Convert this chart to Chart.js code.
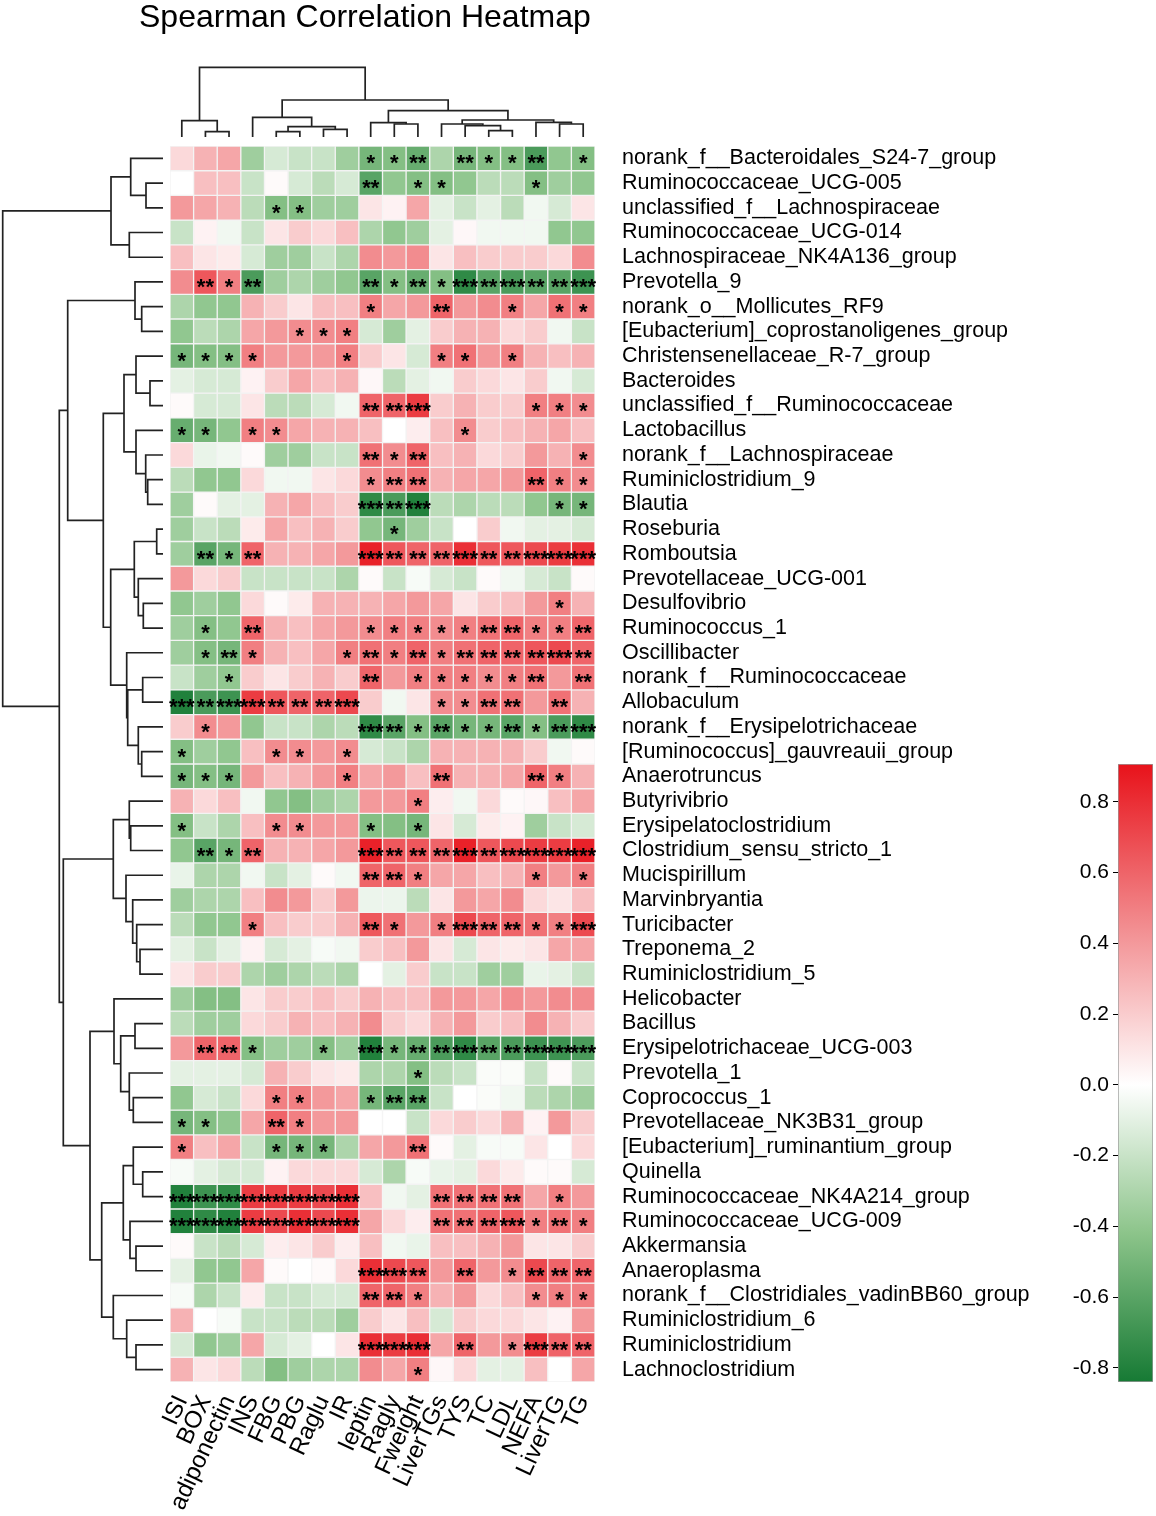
<!DOCTYPE html>
<html>
<head>
<meta charset="utf-8">
<script src="https://cdn.jsdelivr.net/npm/chart.js@4.4.1/dist/chart.umd.min.js"></script>
<style>
  body { margin: 0; background: #fff; }
  #wrap { position: relative; width: 1156px; height: 1516px; overflow: hidden; }
  canvas { position: absolute; }
  #title { position: absolute; left: 139px; top: 0px; font: 32px/32px "Liberation Sans", Arial, sans-serif; color: #000; white-space: nowrap; }
</style>
</head>
<body>
<div id="wrap">
  <canvas id="heat" width="1156" height="1516" style="left:0;top:0"></canvas>
  <canvas id="topTree" width="425" height="80" style="left:170px;top:60px"></canvas>
  <canvas id="leftTree" width="166" height="1236" style="left:0;top:146px"></canvas>
  <canvas id="bar" width="106" height="658" style="left:1050px;top:744px"></canvas>
  <div id="title">Spearman Correlation Heatmap</div>
</div>
<script>
// columns (clinical indices) and rows (genera), in dendrogram order
const colLabels = ['ISI', 'BOX', 'adiponectin', 'INS', 'FBG', 'PBG', 'Raglu', 'IR', 'leptin',
  'Ragly', 'Fweight', 'LiverTGs', 'TYS', 'TC', 'LDL', 'NEFA', 'LiverTG', 'TG'];

const rowLabels = ['norank_f__Bacteroidales_S24-7_group', 'Ruminococcaceae_UCG-005',
  'unclassified_f__Lachnospiraceae', 'Ruminococcaceae_UCG-014', 'Lachnospiraceae_NK4A136_group',
  'Prevotella_9', 'norank_o__Mollicutes_RF9', '[Eubacterium]_coprostanoligenes_group',
  'Christensenellaceae_R-7_group', 'Bacteroides', 'unclassified_f__Ruminococcaceae',
  'Lactobacillus', 'norank_f__Lachnospiraceae', 'Ruminiclostridium_9', 'Blautia', 'Roseburia',
  'Romboutsia', 'Prevotellaceae_UCG-001', 'Desulfovibrio', 'Ruminococcus_1', 'Oscillibacter',
  'norank_f__Ruminococcaceae', 'Allobaculum', 'norank_f__Erysipelotrichaceae',
  '[Ruminococcus]_gauvreauii_group', 'Anaerotruncus', 'Butyrivibrio', 'Erysipelatoclostridium',
  'Clostridium_sensu_stricto_1', 'Mucispirillum', 'Marvinbryantia', 'Turicibacter', 'Treponema_2',
  'Ruminiclostridium_5', 'Helicobacter', 'Bacillus', 'Erysipelotrichaceae_UCG-003', 'Prevotella_1',
  'Coprococcus_1', 'Prevotellaceae_NK3B31_group', '[Eubacterium]_ruminantium_group', 'Quinella',
  'Ruminococcaceae_NK4A214_group', 'Ruminococcaceae_UCG-009', 'Akkermansia', 'Anaeroplasma',
  'norank_f__Clostridiales_vadinBB60_group', 'Ruminiclostridium_6', 'Ruminiclostridium',
  'Lachnoclostridium'];

// spearman rho, one row per genus (estimated from the colours)
const rho = [
  [0.15, 0.30, 0.35, -0.35, -0.15, -0.20, -0.20, -0.35, -0.50, -0.45, -0.55, -0.30, -0.50, -0.45, -0.45, -0.65, -0.40, -0.45],
  [0.00, 0.25, 0.25, -0.20, 0.02, -0.15, -0.25, -0.15, -0.60, -0.40, -0.45, -0.45, -0.40, -0.25, -0.25, -0.45, -0.35, -0.40],
  [0.40, 0.35, 0.30, -0.25, -0.45, -0.45, -0.35, -0.35, 0.10, 0.05, 0.35, -0.10, -0.20, -0.10, -0.25, -0.05, -0.15, 0.10],
  [-0.20, 0.05, -0.05, -0.20, 0.10, 0.20, 0.15, 0.25, -0.30, -0.40, -0.35, -0.10, 0.03, -0.05, -0.05, -0.05, -0.40, -0.40],
  [0.25, 0.10, 0.08, -0.15, -0.35, -0.35, -0.20, -0.30, 0.45, 0.40, 0.45, 0.10, 0.25, 0.20, 0.20, 0.20, 0.15, 0.45],
  [0.45, 0.65, 0.50, -0.65, -0.35, -0.30, -0.35, -0.40, -0.60, -0.45, -0.55, -0.45, -0.75, -0.60, -0.65, -0.60, -0.60, -0.70],
  [-0.30, -0.40, -0.40, 0.30, 0.20, 0.10, 0.25, 0.25, 0.50, 0.35, 0.40, 0.60, 0.40, 0.45, 0.50, 0.35, 0.55, 0.50],
  [-0.40, -0.25, -0.30, 0.35, 0.40, 0.45, 0.45, 0.50, -0.15, -0.35, -0.10, 0.20, 0.30, 0.30, 0.15, 0.20, -0.05, -0.20],
  [-0.50, -0.45, -0.45, 0.50, 0.40, 0.40, 0.40, 0.50, 0.20, 0.10, -0.15, 0.50, 0.55, 0.40, 0.50, 0.30, 0.25, 0.30],
  [-0.10, -0.15, -0.15, 0.05, 0.20, 0.35, 0.25, 0.30, 0.03, -0.25, -0.10, -0.05, 0.20, 0.15, 0.10, 0.20, -0.05, -0.15],
  [0.02, -0.15, -0.15, 0.10, -0.25, -0.25, -0.15, -0.05, 0.60, 0.60, 0.75, 0.20, 0.30, 0.20, 0.20, 0.50, 0.50, 0.45],
  [-0.55, -0.50, -0.40, 0.50, 0.45, 0.35, 0.30, 0.30, 0.25, 0.00, 0.07, 0.25, 0.45, 0.20, 0.25, 0.30, 0.35, 0.25],
  [0.15, -0.08, -0.05, 0.02, -0.35, -0.35, -0.20, -0.20, 0.55, 0.45, 0.60, 0.25, 0.30, 0.15, 0.20, 0.40, 0.30, 0.45],
  [-0.25, -0.40, -0.40, 0.15, -0.05, -0.05, 0.10, 0.15, 0.45, 0.50, 0.55, 0.30, 0.35, 0.35, 0.40, 0.60, 0.50, 0.45],
  [-0.35, 0.02, -0.10, -0.10, 0.30, 0.35, 0.25, 0.20, -0.75, -0.65, -0.80, -0.25, -0.30, -0.25, -0.25, -0.40, -0.50, -0.50],
  [-0.35, -0.20, -0.25, 0.08, 0.35, 0.25, 0.30, 0.20, -0.40, -0.50, -0.35, -0.20, 0.00, 0.20, -0.05, -0.10, -0.10, -0.15],
  [-0.35, -0.60, -0.50, 0.60, 0.30, 0.30, 0.35, 0.40, 0.85, 0.65, 0.60, 0.60, 0.80, 0.65, 0.65, 0.70, 0.75, 0.80],
  [0.40, 0.15, 0.20, -0.20, -0.20, -0.20, -0.20, -0.30, 0.02, -0.20, -0.03, -0.15, -0.20, 0.02, -0.05, -0.15, -0.20, 0.02],
  [-0.40, -0.35, -0.40, 0.15, 0.02, 0.08, 0.30, 0.30, 0.30, 0.35, 0.40, 0.35, 0.10, 0.20, 0.25, 0.40, 0.50, 0.30],
  [-0.35, -0.45, -0.40, 0.60, 0.30, 0.25, 0.35, 0.40, 0.45, 0.50, 0.50, 0.45, 0.50, 0.55, 0.60, 0.50, 0.50, 0.60],
  [-0.35, -0.45, -0.50, 0.50, 0.30, 0.25, 0.35, 0.50, 0.55, 0.50, 0.60, 0.50, 0.55, 0.60, 0.60, 0.65, 0.70, 0.60],
  [-0.20, -0.35, -0.40, 0.20, 0.10, 0.20, 0.30, 0.20, 0.60, 0.40, 0.50, 0.50, 0.50, 0.45, 0.50, 0.55, 0.40, 0.55],
  [-0.80, -0.65, -0.70, 0.75, 0.65, 0.60, 0.60, 0.70, 0.20, -0.05, 0.10, 0.45, 0.45, 0.55, 0.55, 0.40, 0.55, 0.30],
  [0.20, 0.45, 0.40, -0.40, -0.20, -0.20, -0.30, -0.25, -0.75, -0.60, -0.45, -0.60, -0.50, -0.50, -0.60, -0.45, -0.65, -0.75],
  [-0.45, -0.35, -0.40, 0.25, 0.45, 0.45, 0.40, 0.45, -0.15, -0.20, -0.30, 0.30, 0.30, 0.30, 0.30, 0.20, -0.05, 0.02],
  [-0.50, -0.45, -0.50, 0.40, 0.25, 0.30, 0.40, 0.50, 0.35, 0.40, 0.25, 0.55, 0.30, 0.30, 0.35, 0.60, 0.50, 0.30],
  [0.30, 0.15, 0.25, -0.05, -0.40, -0.45, -0.35, -0.30, 0.40, 0.40, 0.50, 0.07, -0.05, 0.15, 0.02, 0.03, 0.25, 0.35],
  [-0.45, -0.20, -0.30, 0.25, 0.45, 0.45, 0.40, 0.40, -0.45, -0.45, -0.50, 0.10, -0.15, 0.08, 0.05, -0.35, -0.20, -0.15],
  [-0.40, -0.60, -0.50, 0.60, 0.30, 0.30, 0.35, 0.40, 0.85, 0.65, 0.65, 0.60, 0.85, 0.65, 0.70, 0.75, 0.75, 0.85],
  [-0.08, -0.30, -0.30, -0.05, -0.20, -0.10, 0.02, -0.05, 0.60, 0.60, 0.50, 0.35, 0.35, 0.25, 0.30, 0.50, 0.40, 0.50],
  [-0.35, -0.30, -0.30, 0.25, 0.45, 0.40, 0.20, 0.40, -0.07, -0.07, -0.25, 0.10, 0.40, 0.35, 0.45, 0.15, 0.10, 0.25],
  [-0.25, -0.40, -0.40, 0.50, 0.25, 0.20, 0.20, 0.30, 0.65, 0.55, 0.40, 0.50, 0.70, 0.60, 0.60, 0.55, 0.50, 0.70],
  [-0.10, -0.20, -0.10, 0.05, -0.15, -0.10, -0.03, -0.05, 0.20, 0.25, 0.40, 0.10, -0.15, 0.10, 0.08, 0.10, 0.35, 0.35],
  [0.10, 0.20, 0.20, -0.30, -0.35, -0.30, -0.25, -0.30, 0.00, -0.10, 0.20, -0.20, -0.20, -0.35, -0.35, -0.08, -0.10, -0.20],
  [-0.35, -0.45, -0.45, 0.10, 0.20, 0.20, 0.25, 0.20, 0.30, 0.25, 0.25, 0.40, 0.40, 0.35, 0.45, 0.40, 0.45, 0.45],
  [-0.25, -0.35, -0.35, 0.15, 0.20, 0.30, 0.25, 0.30, 0.45, 0.20, 0.15, 0.30, 0.40, 0.20, 0.25, 0.45, 0.30, 0.20],
  [0.40, 0.60, 0.60, -0.45, -0.35, -0.35, -0.45, -0.35, -0.80, -0.50, -0.55, -0.65, -0.75, -0.60, -0.65, -0.70, -0.70, -0.65],
  [-0.10, -0.10, -0.10, -0.15, 0.30, 0.20, 0.10, 0.08, -0.30, -0.30, -0.45, -0.25, -0.20, -0.02, -0.02, -0.20, 0.02, -0.20],
  [-0.40, -0.15, -0.20, 0.15, 0.50, 0.50, 0.40, 0.35, -0.50, -0.60, -0.60, -0.20, 0.00, -0.02, -0.05, -0.25, -0.30, -0.35],
  [-0.50, -0.45, -0.40, 0.35, 0.60, 0.50, 0.40, 0.40, 0.00, 0.00, -0.20, 0.15, 0.20, 0.15, 0.30, 0.05, 0.40, 0.20],
  [0.50, 0.25, 0.35, -0.20, -0.50, -0.50, -0.50, -0.30, 0.35, 0.40, 0.55, 0.02, -0.10, -0.03, -0.03, 0.10, 0.00, 0.15],
  [-0.03, -0.10, -0.15, -0.15, 0.05, 0.15, 0.15, 0.15, -0.15, -0.30, -0.03, -0.08, -0.10, 0.15, 0.08, 0.02, 0.02, -0.15],
  [-0.80, -0.70, -0.75, 0.75, 0.75, 0.75, 0.70, 0.80, 0.25, -0.05, -0.10, 0.55, 0.55, 0.55, 0.55, 0.35, 0.50, 0.40],
  [-0.80, -0.75, -0.80, 0.75, 0.70, 0.80, 0.70, 0.80, 0.35, 0.15, 0.07, 0.55, 0.55, 0.60, 0.65, 0.50, 0.55, 0.50],
  [0.02, -0.20, -0.25, -0.15, 0.07, 0.10, 0.20, 0.07, 0.25, -0.05, -0.08, 0.25, 0.25, 0.30, 0.40, 0.10, 0.10, 0.20],
  [-0.10, -0.40, -0.40, 0.35, 0.02, 0.00, 0.02, 0.15, 0.80, 0.70, 0.65, 0.40, 0.60, 0.40, 0.45, 0.70, 0.60, 0.60],
  [-0.03, -0.30, -0.20, 0.07, -0.20, -0.20, -0.15, -0.15, 0.60, 0.60, 0.50, 0.30, 0.40, 0.15, 0.25, 0.45, 0.50, 0.50],
  [0.30, 0.00, -0.03, -0.20, -0.20, -0.25, -0.25, -0.35, 0.20, 0.10, 0.25, -0.15, 0.20, 0.15, 0.15, 0.10, 0.05, 0.40],
  [-0.15, -0.40, -0.35, 0.35, -0.15, -0.10, 0.00, 0.10, 0.80, 0.75, 0.80, 0.35, 0.60, 0.40, 0.45, 0.75, 0.60, 0.60],
  [0.30, 0.10, 0.15, -0.25, -0.45, -0.35, -0.30, -0.30, 0.45, 0.35, 0.50, 0.03, 0.15, -0.10, -0.10, 0.25, 0.00, 0.35]
];

// number of significance stars per cell, one digit per column
const sig = [
  '000000001120211201', '000000002011000100', '000011000000000000', '000000000000000000',
  '000000000000000000', '021200002121323223', '000000001002001011', '000001110000000000',
  '111100010001101000', '000000000000000000', '000000002230000111', '110110000000100000',
  '000000002120000001', '000000001220000211', '000000003230000011', '000000000100000000',
  '021200003222322333', '000000000000000000', '000000000000000010', '010200001111122112',
  '012100012121222232', '001000002011111202', '323322230001122020', '010000003212112123',
  '100011010000000000', '111000010002000210', '000000000010000000', '100011001010000000',
  '021200003222323333', '000000002210000101', '000000000000000000', '000100002101322113',
  '000000000000000000', '000000000000000000', '000000000000000000', '000000000000000000',
  '022100103122322333', '000000000010000000', '000011001220000000', '110021000000000000',
  '100011100020000000', '000000000000000000', '333333330002222010', '333333330002223121',
  '000000000000000000', '000000003320201222', '000000002210000111', '000000000000000000',
  '000000003330201322', '000000000010000000'
];

// hierarchical clustering, [left, right, height]; leaves are column / row indices
const colTree = [[0, [1, 2, 0.53], 1.63],
  [[3, [[4, 5, 0.53], [6, 7, 0.77], 1.03], 1.97],
   [[8, [9, 10, 1.3], 1.43],
    [[11, [12, [13, 14, 0.63], 1.13], 1.3], [15, [16, 17, 1.3], 1.47], 1.7], 2.63], 3.7], 6.97];

const rowTree = [
  [[0, [1, 2, 1.7], 3.23], [3, 4, 3.37], 5.2],
  [[[5, [6, 7, 2.13], 2.8],
    [[[8, [9, 10, 1.3], 2.7], [11, [12, [13, 14, 1.53], 1.73], 2.7], 3.9],
     [[[15, 16, 0.63], [17, [18, 19, 1.97], 2.47], 2.87],
      [20, [[21, 22, 2.03], [23, [24, 25, 2.13], 2.47], 3.53], 3.63], 5.23], 5.97], 9.53],
   [[[26, [27, 28, 3.23], 3.37], [29, [30, [31, [32, 33, 2.3], 2.63], 3.03], 3.7], 4.97],
    [[34, [[35, 36, 2.8], [37, [38, 39, 2.97], 3.37], 4.23], 4.9],
     [[[40, [41, 42, 2.03], 2.97], [43, [44, 45, 2.7], 3.3], 3.97],
      [46, [47, [48, 49, 2.7], 3.63], 4.97], 6.13], 7.3], 9.97], 10.37],
  16.03];

// colour key range and ticks
const keyMin = -0.84;
const keyMax = 0.907;
const keyTicks = [-0.8, -0.6, -0.4, -0.2, 0.0, 0.2, 0.4, 0.6, 0.8];

const FONT = '"Liberation Sans", Arial, Helvetica, sans-serif';
Chart.defaults.font.family = FONT;
Chart.defaults.color = '#000';

// green - white - red ramp
const ramp = [
  [-0.84, [22, 122, 52]],
  [-0.42, [140, 196, 138]],
  [0, [255, 255, 255]],
  [0.45, [242, 140, 143]],
  [0.9, [232, 20, 28]]
];
function cellColor(v) {
  if (v <= ramp[0][0]) return 'rgb(' + ramp[0][1].join(',') + ')';
  for (let i = 1; i < ramp.length; i++) {
    if (v <= ramp[i][0]) {
      const [v0, c0] = ramp[i - 1], [v1, c1] = ramp[i];
      const t = (v - v0) / (v1 - v0);
      return 'rgb(' + c0.map((c, k) => Math.round(c + (c1[k] - c) * t)).join(',') + ')';
    }
  }
  return 'rgb(' + ramp[ramp.length - 1][1].join(',') + ')';
}

// stars on top of the cells
const starPlugin = {
  id: 'stars',
  afterDatasetsDraw(chart) {
    const { ctx, scales } = chart;
    ctx.save();
    ctx.fillStyle = '#000';
    ctx.font = 'bold 22px ' + FONT;
    ctx.textAlign = 'center';
    ctx.textBaseline = 'alphabetic';
    sig.forEach((row, r) => {
      [...row].forEach((n, c) => {
        if (n === '0') return;
        const x = scales.x.getPixelForValue(c);
        const y = scales.y.getPixelForValue(r + 0.5);
        ctx.fillText('*'.repeat(+n), x, y + 12);
      });
    });
    ctx.restore();
  }
};

new Chart(document.getElementById('heat'), {
  type: 'bar',
  data: {
    labels: colLabels,
    datasets: rowLabels.map((name, r) => ({
      label: name,
      data: colLabels.map(() => [r, r + 1]),
      backgroundColor: rho[r].map(cellColor),
      borderColor: '#f3f3f3',
      borderWidth: 1,
      borderSkipped: false,
      grouped: false,
      barPercentage: 1,
      categoryPercentage: 1,
      yAxisID: 'y'
    }))
  },
  options: {
    responsive: false,
    animation: false,
    events: [],
    layout: { padding: { left: 170, top: 146, right: 0, bottom: 0 } },
    plugins: { legend: { display: false }, tooltip: { enabled: false } },
    scales: {
      x: {
        position: 'bottom',
        grid: { display: false, drawTicks: false },
        border: { display: false },
        ticks: { autoSkip: false, minRotation: 65, maxRotation: 65, padding: 9, font: { size: 24 } },
        afterFit: s => { s.height = 134; }
      },
      y: { type: 'linear', min: 0, max: 50, reverse: true, display: false },
      yRows: {
        type: 'category',
        axis: 'y',
        labels: rowLabels,
        position: 'right',
        offset: true,
        grid: { display: false, drawTicks: false },
        border: { display: false },
        ticks: { autoSkip: false, padding: 27, font: { size: 21.5 } },
        afterFit: s => { s.width = 561; }
      }
    }
  },
  plugins: [starPlugin]
});

// dendrograms: each merge becomes one bracket-shaped line
function brackets(tree, out) {
  if (typeof tree === 'number') return [tree, 0];
  const [a, b, h] = tree;
  const [pa, ha] = brackets(a, out);
  const [pb, hb] = brackets(b, out);
  out.push([[pa, ha], [pa, h], [pb, h], [pb, hb]]);
  return [(pa + pb) / 2, h];
}

function treeChart(id, tree, horizontal, posRange, hRange) {
  const segs = [];
  brackets(tree, segs);
  const pos = { type: 'linear', min: posRange[0], max: posRange[1], display: false };
  const hgt = { type: 'linear', min: hRange[0], max: hRange[1], display: false };
  new Chart(document.getElementById(id), {
    type: 'scatter',
    data: {
      datasets: segs.map(s => ({
        data: s.map(([p, h]) => horizontal ? { x: h, y: p } : { x: p, y: h }),
        showLine: true,
        borderColor: '#222',
        borderWidth: 1.7,
        pointRadius: 0,
        tension: 0,
        clip: false
      }))
    },
    options: {
      responsive: false,
      animation: false,
      events: [],
      layout: { padding: 0 },
      plugins: { legend: { display: false }, tooltip: { enabled: false } },
      scales: horizontal
        ? { x: Object.assign(hgt, { reverse: true }), y: Object.assign(pos, { reverse: true }) }
        : { x: pos, y: hgt }
    }
  });
}

treeChart('topTree', colTree, false, [-0.5, colLabels.length - 0.5], [-0.3, 7.7]);
treeChart('leftTree', rowTree, true, [-0.5, rowLabels.length - 0.5], [-0.3, 16.3]);

// colour key
new Chart(document.getElementById('bar'), {
  type: 'bar',
  data: {
    labels: [''],
    datasets: [{
      data: [[keyMin, keyMax]],
      backgroundColor: (c) => {
        const { chart } = c;
        if (!chart.chartArea) return '#fff';
        const ys = chart.scales.y;
        const top = ys.getPixelForValue(keyMax), bot = ys.getPixelForValue(keyMin);
        const g = chart.ctx.createLinearGradient(0, top, 0, bot);
        ramp.forEach(([v]) => {
          const t = Math.min(1, Math.max(0, (keyMax - v) / (keyMax - keyMin)));
          g.addColorStop(t, cellColor(v));
        });
        g.addColorStop(0, cellColor(keyMax));
        return g;
      },
      borderColor: '#9a9a9a',
      borderWidth: 1,
      borderSkipped: false,
      barPercentage: 1,
      categoryPercentage: 1
    }]
  },
  options: {
    responsive: false,
    animation: false,
    events: [],
    layout: { padding: { top: 20, bottom: 20, right: 3, left: 0 } },
    plugins: { legend: { display: false }, tooltip: { enabled: false } },
    scales: {
      x: { display: false },
      y: {
        min: keyMin,
        max: keyMax,
        position: 'left',
        afterBuildTicks: s => { s.ticks = keyTicks.map(v => ({ value: v })); },
        ticks: { padding: 4, font: { size: 21 }, callback: v => v.toFixed(1) },
        grid: { drawOnChartArea: false, drawTicks: true, tickLength: 5, color: '#000' },
        border: { display: false },
        afterFit: s => { s.width = 68; }
      }
    }
  }
});
</script>
</body>
</html>
